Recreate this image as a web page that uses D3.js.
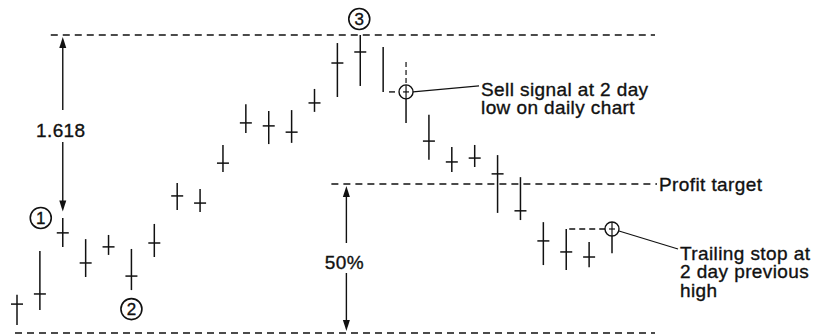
<!DOCTYPE html>
<html>
<head>
<meta charset="utf-8">
<script src="https://cdn.jsdelivr.net/npm/d3@7/dist/d3.min.js"></script>
<style>
  html, body { margin: 0; padding: 0; background: #fff; }
  svg { display: block; }
  text { font-family: "Liberation Sans", Arial, Helvetica, sans-serif; fill: #111; stroke: #111; stroke-width: 0.35px; }
</style>
</head>
<body>
<svg id="chart" width="814" height="336"></svg>
<script>
// Daily bars: high, low and close for each session (null = no close mark).
const days   = [1, 2, 3, 4, 5, 6, 7, 8, 9, 10, 11, 12, 13, 14, 15, 16, 17, 18, 19, 20, 21, 22, 23, 24, 25, 26, 27];
const highs  = [12.8, 27.5, 38.6, 31.5, 32.9, 28.2, 36.6, 50.3, 48.3, 63.1, 76.8, 74.5, 74.8, 81.9, 97.3, 100.0, 96.0, 90.9, 73.2, 62.4, 63.1, 59.7, 52.3, 37.2, 34.9, 30.5, 37.2];
const lows   = [2.7, 7.7, 28.9, 18.8, 26.2, 14.4, 25.5, 41.3, 40.6, 54.0, 67.1, 63.4, 63.8, 74.2, 79.2, 82.9, 80.9, 70.5, 58.1, 54.0, 55.7, 40.3, 37.9, 22.8, 21.1, 22.1, 26.8];
const closes = [9.7, 13.1, 33.6, 23.5, 28.9, 19.1, 30.2, 46.0, 43.6, 57.0, 70.5, 69.5, 67.4, 77.2, 90.6, 94.3, null, null, 64.4, 57.4, 58.7, 53.4, 41.0, 30.9, 27.2, 25.5, null];

// Swing points and trade events (day numbers)
const pivotDays   = [3, 6, 16];          // circled 1, 2, 3
const pivotMarks  = ["1", "2", "3"];
const baseLevel   = 0;                   // swing low the move is measured from
const fibLabel    = "1.618";
const retraceRatio = 0.5;
const retraceLabel = "50%";
const sellDay     = 18;                  // sell on break of 2-day low
const trailDay    = 27;                  // trailing stop hit at 2-day previous high
const sellNote    = ["Sell signal at 2 day", "low on daily chart"];
const targetNote  = "Profit target";
const trailNote   = ["Trailing stop at", "2 day previous", "high"];

const svg = d3.select("#chart");
const x = d3.scalePoint().domain(days).range([17, 612]);
const y = d3.scaleLinear().domain([0, 100]).range([333, 35]);

const ink = "#111";
const idx = d => days.indexOf(d);

const topLevel = d3.max(highs);
const targetLevel = baseLevel + retraceRatio * (topLevel - baseLevel);
const sellLevel = d3.min([lows[idx(sellDay) - 2], lows[idx(sellDay) - 1]]);
const trailLevel = highs[idx(trailDay) - 2];

// Horizontal dashed reference levels
const dash = "7,5";
function hline(x1, x2, level) {
  svg.append("line")
    .attr("x1", x1).attr("x2", x2)
    .attr("y1", y(level)).attr("y2", y(level))
    .attr("stroke", ink).attr("stroke-width", 1.4)
    .attr("stroke-dasharray", dash);
}
hline(x(3) - 12, x(27) + 43, topLevel);
hline(x(1) - 2, x(27) + 43, baseLevel);
hline(x(15) - 6, x(27) + 45, targetLevel);

// Bars
const bars = svg.append("g").attr("stroke", ink).attr("stroke-width", 1.5);
days.forEach((d, i) => {
  const cx = x(d);
  if (d === sellDay) {
    // upper part above the signal drawn dashed
    bars.append("line").attr("x1", cx).attr("x2", cx)
      .attr("y1", y(highs[i])).attr("y2", y(sellLevel) - 7)
      .attr("stroke-dasharray", "5,3").attr("stroke-width", 1.2);
    bars.append("line").attr("x1", cx).attr("x2", cx)
      .attr("y1", y(sellLevel) + 7).attr("y2", y(lows[i]));
  } else if (d === trailDay) {
    bars.append("line").attr("x1", cx).attr("x2", cx)
      .attr("y1", y(highs[i])).attr("y2", y(trailLevel) - 7);
    bars.append("line").attr("x1", cx).attr("x2", cx)
      .attr("y1", y(trailLevel) + 7).attr("y2", y(lows[i]));
  } else {
    bars.append("line").attr("x1", cx).attr("x2", cx)
      .attr("y1", y(highs[i])).attr("y2", y(lows[i]));
  }
  if (closes[i] != null) {
    bars.append("line").attr("x1", cx - 6).attr("x2", cx + 6)
      .attr("y1", y(closes[i])).attr("y2", y(closes[i]));
  }
});

// Circled event markers
function ring(cx, cy) {
  svg.append("circle").attr("cx", cx).attr("cy", cy).attr("r", 7)
    .attr("fill", "none").attr("stroke", ink).attr("stroke-width", 1.4);
  svg.append("line").attr("x1", cx).attr("x2", cx).attr("y1", cy - 7).attr("y2", cy + 7)
    .attr("stroke", ink).attr("stroke-width", 1.2);
  svg.append("line").attr("x1", cx - 3).attr("x2", cx + 3).attr("y1", cy).attr("y2", cy)
    .attr("stroke", ink).attr("stroke-width", 1.2);
}
const sx = x(sellDay), sy = y(sellLevel);
ring(sx, sy);
svg.append("line").attr("x1", sx - 17).attr("x2", sx - 11).attr("y1", sy).attr("y2", sy)
  .attr("stroke", ink).attr("stroke-width", 1.4);
svg.append("line").attr("x1", sx + 7).attr("y1", sy).attr("x2", sx + 73).attr("y2", sy - 6)
  .attr("stroke", ink).attr("stroke-width", 1.2);

const tx = x(trailDay), ty = y(trailLevel);
ring(tx, ty);
svg.append("line").attr("x1", x(trailDay - 2) + 3).attr("x2", tx - 7).attr("y1", ty).attr("y2", ty)
  .attr("stroke", ink).attr("stroke-width", 1.4).attr("stroke-dasharray", "6,4");
svg.append("line").attr("x1", tx + 7).attr("y1", ty + 2).attr("x2", tx + 66).attr("y2", ty + 20)
  .attr("stroke", ink).attr("stroke-width", 1.2);

// Annotation text
const fs = 19, ls = 0.4;
const sellText = svg.append("text").attr("x", sx + 75).attr("y", sy + 4)
  .attr("font-size", fs).attr("letter-spacing", ls);
sellNote.forEach((t, k) => sellText.append("tspan").attr("x", sx + 75).attr("dy", k ? 18 : 0).text(t));

svg.append("text").attr("x", x(27) + 47).attr("y", y(targetLevel) + 7)
  .attr("font-size", fs).attr("letter-spacing", ls).text(targetNote);

const trailText = svg.append("text").attr("x", tx + 68).attr("y", ty + 31)
  .attr("font-size", fs).attr("letter-spacing", ls);
trailNote.forEach((t, k) => trailText.append("tspan").attr("x", tx + 68).attr("dy", k ? 18.5 : 0).text(t));

// Measuring arrows
function arrowHead(ax, tipY, dir) {
  const b = tipY + dir * 11;
  svg.append("path")
    .attr("d", `M${ax},${tipY}L${ax - 3.5},${b}L${ax + 3.5},${b}Z`)
    .attr("fill", ink);
}
function measure(ax, fromLevel, toLevel, label, labelY, gapTop, gapBottom) {
  const y1 = y(fromLevel) + 2, y2 = y(toLevel) - 2;
  svg.append("line").attr("x1", ax).attr("x2", ax).attr("y1", y1 + 4).attr("y2", gapTop)
    .attr("stroke", ink).attr("stroke-width", 1.4);
  svg.append("line").attr("x1", ax).attr("x2", ax).attr("y1", gapBottom).attr("y2", y2 - 4)
    .attr("stroke", ink).attr("stroke-width", 1.4);
  arrowHead(ax, y1, 1);
  arrowHead(ax, y2, -1);
  svg.append("text").attr("x", ax - 2).attr("y", labelY).attr("text-anchor", "middle")
    .attr("font-size", fs).attr("letter-spacing", ls).text(label);
}
measure(x(3), topLevel, highs[idx(3)] + 1.5, fibLabel, 137, 110, 142);
measure(x(15) + 9, targetLevel, baseLevel, retraceLabel, 269, 243, 273);

// Circled pivot numbers
const pivotPos = [
  { dx: -22, level: highs[idx(3)], dy: 0 },
  { dx: 0, level: lows[idx(6)], dy: 19 },
  { dx: -1, level: highs[idx(16)], dy: -16 }
];
pivotDays.forEach((d, k) => {
  const p = pivotPos[k];
  const cx = x(d) + p.dx, cy = y(p.level) + p.dy;
  svg.append("circle").attr("cx", cx).attr("cy", cy).attr("r", 10.5)
    .attr("fill", "#fff").attr("stroke", ink).attr("stroke-width", 1.6);
  svg.append("text")
    .attr("x", cx).attr("y", cy + 6)
    .attr("text-anchor", "middle")
    .attr("font-size", 17).text(pivotMarks[k]);
});
</script>
</body>
</html>
